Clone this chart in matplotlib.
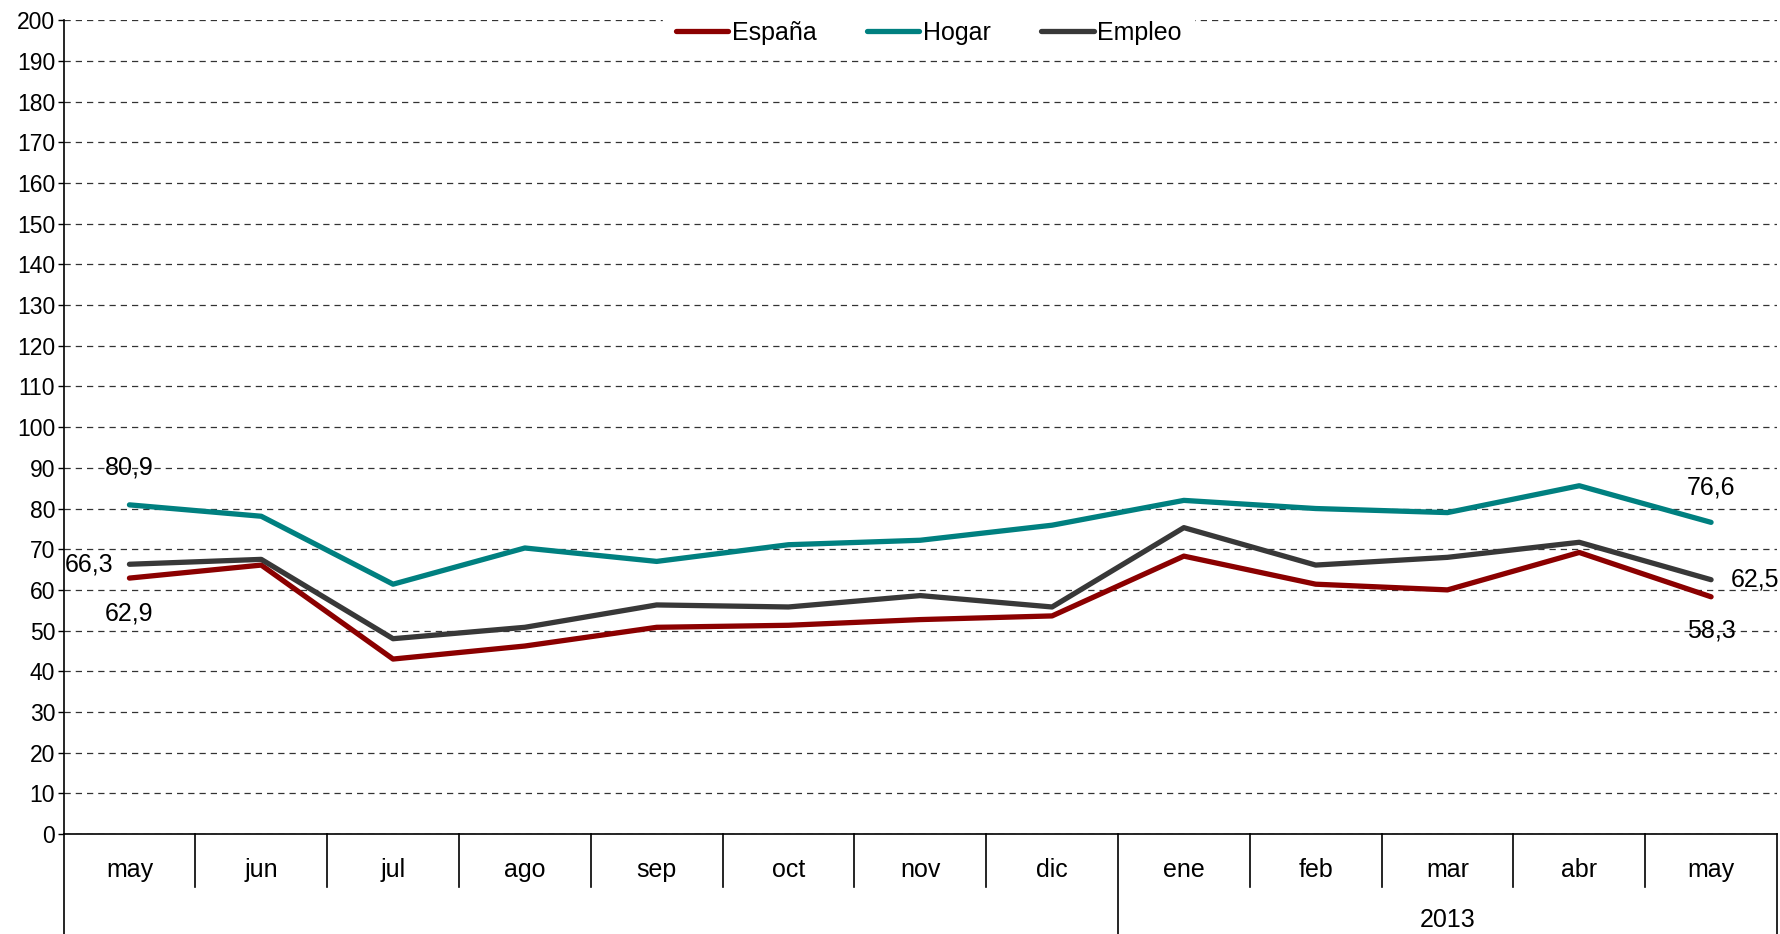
import matplotlib.pyplot as plt
import matplotlib.transforms as mtransforms
from matplotlib.lines import Line2D

plt.rcParams['font.family'] = ['Liberation Sans Narrow', 'Liberation Sans', 'DejaVu Sans']

# data
months = ['may', 'jun', 'jul', 'ago', 'sep', 'oct', 'nov', 'dic',
          'ene', 'feb', 'mar', 'abr', 'may']
espana = [62.9, 66.1, 43.0, 46.2, 50.8, 51.3, 52.7, 53.6, 68.3, 61.4, 60.0, 69.2, 58.3]
hogar = [80.9, 78.1, 61.4, 70.3, 67.0, 71.1, 72.2, 75.9, 82.0, 80.0, 79.0, 85.6, 76.6]
empleo = [66.3, 67.5, 48.0, 50.8, 56.3, 55.8, 58.6, 55.8, 75.3, 66.1, 68.0, 71.7, 62.5]
year_label = '2013'

fig = plt.figure(figsize=(17.8, 9.34), dpi=100)
ax = fig.add_axes([0.0357, 0.1071, 0.9626, 0.8711])

x = list(range(len(months)))
ax.plot(x, espana, color='#8b0000', lw=3.8, label='España', solid_capstyle='round')
ax.plot(x, hogar, color='#008080', lw=3.8, label='Hogar', solid_capstyle='round')
ax.plot(x, empleo, color='#383838', lw=3.8, label='Empleo', solid_capstyle='round')

ax.set_xlim(-0.5, len(months) - 0.5)
ax.set_ylim(0, 200)
ax.set_yticks(range(0, 201, 10))
ax.yaxis.grid(True, color='#333333', linestyle=(0, (5, 4)), lw=0.9)
ax.set_axisbelow(True)
for s in ['top', 'right']:
    ax.spines[s].set_visible(False)
ax.spines['left'].set_linewidth(1.2)
ax.spines['bottom'].set_linewidth(1.2)
ax.tick_params(axis='y', labelsize=16.5, length=4, width=1, pad=2)
ax.set_xticks(x)
ax.set_xticklabels(months, fontsize=18)
ax.tick_params(axis='x', length=0, pad=17)

# category separators below the axis
trans = mtransforms.blended_transform_factory(ax.transData, ax.transAxes)
for k in range(len(months) + 1):
    xs = k - 0.5
    y_end = -0.123 if k in (0, 8, len(months)) else -0.065
    ax.add_line(Line2D([xs, xs], [0, y_end], transform=trans, color='black',
                       lw=1.2, clip_on=False))
ax.text(10, -0.106, year_label, transform=trans, ha='center', va='center', fontsize=18)

# data labels at the ends
def label(xi, yi, dx, dy):
    ax.annotate(f'{yi:.1f}'.replace('.', ','), (xi, yi), xytext=(dx, dy),
                textcoords='offset pixels', ha='center', va='center', fontsize=18)

label(0, hogar[0], 0, 37)
label(0, empleo[0], -40, 0)
label(0, espana[0], 0, -35)
label(12, hogar[-1], 0, 35)
label(12, empleo[-1], 44, 0)
label(12, espana[-1], 0, -34)

leg = ax.legend(loc='center', bbox_to_anchor=(0.505, 0.985), ncol=3, fontsize=18,
                frameon=True, handlelength=2.1, handletextpad=0.15, columnspacing=2.0,
                borderaxespad=0, borderpad=0.5, fancybox=False)
leg.get_frame().set_edgecolor('white')
leg.get_frame().set_facecolor('white')
leg.get_frame().set_alpha(1)

fig.savefig('out.png', dpi=100)
